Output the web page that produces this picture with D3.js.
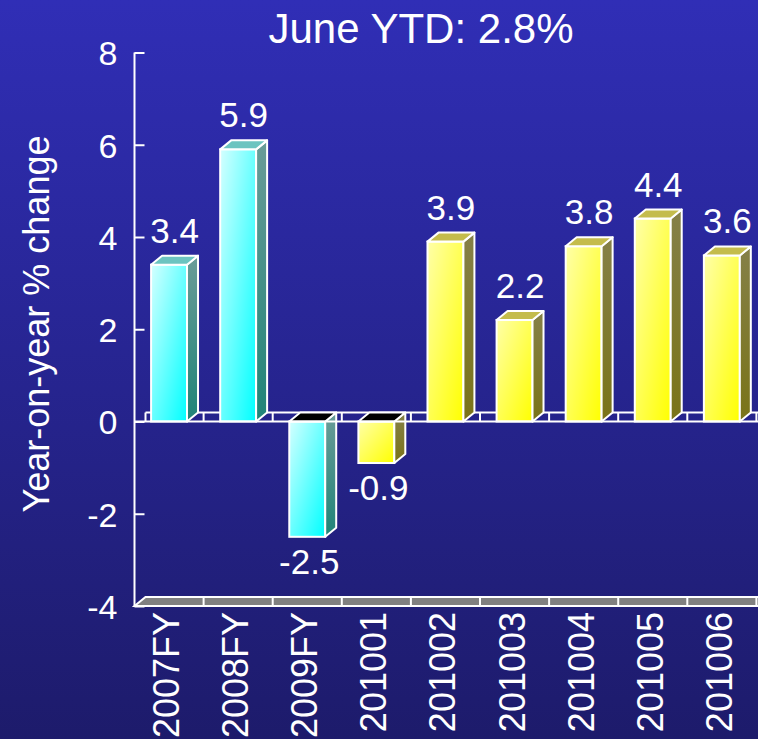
<!DOCTYPE html>
<html>
<head>
<meta charset="utf-8">
<script src="https://cdnjs.cloudflare.com/ajax/libs/d3/7.8.5/d3.min.js"></script>
<style>
  html, body { margin: 0; padding: 0; background: #24229a; }
  svg { display: block; }
  text { font-family: "Liberation Sans", Arial, sans-serif; fill: #ffffff; }
</style>
</head>
<body>
<svg id="chart" width="758" height="739"></svg>
<script>
// Year-on-year % change by period
const categories = ["2007FY", "2008FY", "2009FY", "201001", "201002", "201003", "201004", "201005", "201006"];
const values     = [3.4, 5.9, -2.5, -0.9, 3.9, 2.2, 3.8, 4.4, 3.6];
const groups     = ["annual", "annual", "annual", "monthly", "monthly", "monthly", "monthly", "monthly", "monthly"];
const yTicks     = [-4, -2, 0, 2, 4, 6, 8];
const titleText  = "June YTD: 2.8%";
const yLabelText = "Year-on-year % change";

const W = 758, H = 739;
const DX = 11, DY = -9;          // depth offset of the 3-D box faces

// plain hyphen for negatives
const fmtValue = v => (v < 0 ? "-" : "") + Math.abs(v).toFixed(1);
const fmtTick = v => (v < 0 ? "-" : "") + Math.abs(v);

const svg = d3.select("#chart");
const defs = svg.append("defs");

// background
const bg = defs.append("linearGradient").attr("id", "bg").attr("x1", 0).attr("y1", 0).attr("x2", 0).attr("y2", 1);
bg.append("stop").attr("offset", 0).attr("stop-color", "#302eb6");
bg.append("stop").attr("offset", 1).attr("stop-color", "#1d1b6b");
svg.append("rect").attr("width", W).attr("height", H).attr("fill", "url(#bg)");

function grad(id, c0, c1, x2, y2) {
  const g = defs.append("linearGradient").attr("id", id)
    .attr("x1", 0).attr("y1", 0).attr("x2", x2).attr("y2", y2);
  g.append("stop").attr("offset", 0).attr("stop-color", c0);
  g.append("stop").attr("offset", 1).attr("stop-color", c1);
}
grad("frontAnnual", "#d4ffff", "#00ffff", 1, 1);
grad("sideAnnual", "#6a9c98", "#208478", 0, 1);
grad("frontMonthly", "#ffffa8", "#ffff00", 1, 1);
grad("sideMonthly", "#858048", "#7a7418", 0, 1);

const palette = {
  annual:  { front: "url(#frontAnnual)",  side: "url(#sideAnnual)",  top: "#6cc4c0" },
  monthly: { front: "url(#frontMonthly)", side: "url(#sideMonthly)", top: "#c4bc4c" }
};

// scales
const x = d3.scaleBand().domain(categories).range([134.5, 756.4]).paddingInner(0.48).paddingOuter(0.24);
const band = d3.scaleBand().domain(categories).range([134.5, 756.4]).padding(0);
const y = d3.scaleLinear().domain([-4, 8]).range([606, 52.5]);
const y0 = y(0), yMin = y(-4);
const xLeft = 134.5;
const boundaries = categories.map((c, i) => band(c) + band.step());

// floor at the bottom of the value range
const floor = svg.append("g");
floor.append("path")
  .attr("d", `M${xLeft},${yMin} L${xLeft + DX},${yMin + DY} L${W + 20},${yMin + DY} L${W + 20},${yMin} Z`)
  .attr("fill", "#808080").attr("stroke", "#ffffff").attr("stroke-width", 2);
floor.selectAll("line").data(boundaries).join("line")
  .attr("x1", d => d).attr("x2", d => d)
  .attr("y1", yMin).attr("y2", yMin + DY)
  .attr("stroke", "#ffffff").attr("stroke-width", 2);

// zero plane: back edge and band dividers sit behind the bars
const zero = svg.append("g");
zero.append("line").attr("x1", xLeft + DX).attr("x2", W + 20).attr("y1", y0 + DY).attr("y2", y0 + DY)
  .attr("stroke", "#ffffff").attr("stroke-width", 2);
zero.append("line").attr("x1", xLeft + DX).attr("x2", xLeft + DX).attr("y1", y0 + DY).attr("y2", y0)
  .attr("stroke", "#ffffff").attr("stroke-width", 2);
zero.selectAll("line.div").data(boundaries).join("line").attr("class", "div")
  .attr("x1", d => d).attr("x2", d => d)
  .attr("y1", y0).attr("y2", y0 + DY)
  .attr("stroke", "#ffffff").attr("stroke-width", 2);

// bars
const data = categories.map((c, i) => ({ cat: c, value: values[i], group: groups[i] }));
const bars = svg.append("g").selectAll("g.bar").data(data).join("g").attr("class", "bar");

bars.each(function (d) {
  const g = d3.select(this);
  const bx = x(d.cat), w = x.bandwidth();
  const yt = Math.min(y(d.value), y0), yb = Math.max(y(d.value), y0);
  const p = palette[d.group];
  const topFill = d.value < 0 ? "#000000" : p.top;
  g.append("rect").attr("x", bx).attr("y", yt).attr("width", w).attr("height", yb - yt)
    .attr("fill", p.front).attr("stroke", "#ffffff").attr("stroke-width", 2);
  g.append("path")
    .attr("d", `M${bx + w},${yt} L${bx + w + DX},${yt + DY} L${bx + w + DX},${yb + DY} L${bx + w},${yb} Z`)
    .attr("fill", p.side).attr("stroke", "#ffffff").attr("stroke-width", 2).attr("stroke-linejoin", "round");
  g.append("path")
    .attr("d", `M${bx},${yt} L${bx + DX},${yt + DY} L${bx + w + DX},${yt + DY} L${bx + w},${yt} Z`)
    .attr("fill", topFill).attr("stroke", "#ffffff").attr("stroke-width", 2).attr("stroke-linejoin", "round");
});

// zero plane front edge
svg.append("line").attr("x1", xLeft).attr("x2", W + 20).attr("y1", y0).attr("y2", y0)
  .attr("stroke", "#ffffff").attr("stroke-width", 2);

// value labels
svg.append("g").selectAll("text").data(data).join("text")
  .attr("x", d => x(d.cat) + x.bandwidth() / 2 + (d.value >= 0 ? DX / 2 : 2))
  .attr("y", d => d.value >= 0 ? y(d.value) + DY - 13 : y(d.value) + 37)
  .attr("text-anchor", "middle")
  .attr("font-size", 35)
  .text(d => fmtValue(d.value));

// y axis
const yAxis = d3.axisLeft(y).tickValues(yTicks).tickSize(-10).tickPadding(17).tickFormat(fmtTick);
const ax = svg.append("g").attr("transform", `translate(${xLeft},0)`).call(yAxis);
ax.select(".domain").remove();
ax.append("line").attr("x1", 0).attr("x2", 0).attr("y1", y(8)).attr("y2", yMin)
  .attr("stroke", "#ffffff").attr("stroke-width", 2);
ax.selectAll(".tick line").attr("stroke", "#ffffff").attr("stroke-width", 2);
ax.selectAll(".tick text").attr("fill", "#ffffff").attr("font-size", 34)
  .attr("font-family", "'Liberation Sans', Arial, sans-serif").attr("dy", "0.36em");

// category labels
svg.append("g").selectAll("text").data(categories).join("text")
  .attr("transform", d => `translate(${x(d) + x.bandwidth() / 2 + 10},${yMin + 6}) rotate(-90)`)
  .attr("text-anchor", "end")
  .attr("font-size", 36)
  .text(d => d);

// axis title
svg.append("text")
  .attr("transform", `translate(49,324) rotate(-90)`)
  .attr("text-anchor", "middle")
  .attr("font-size", 36)
  .text(yLabelText);

// chart title
svg.append("text")
  .attr("x", 421).attr("y", 43)
  .attr("text-anchor", "middle")
  .attr("font-size", 42)
  .text(titleText);
</script>
</body>
</html>
